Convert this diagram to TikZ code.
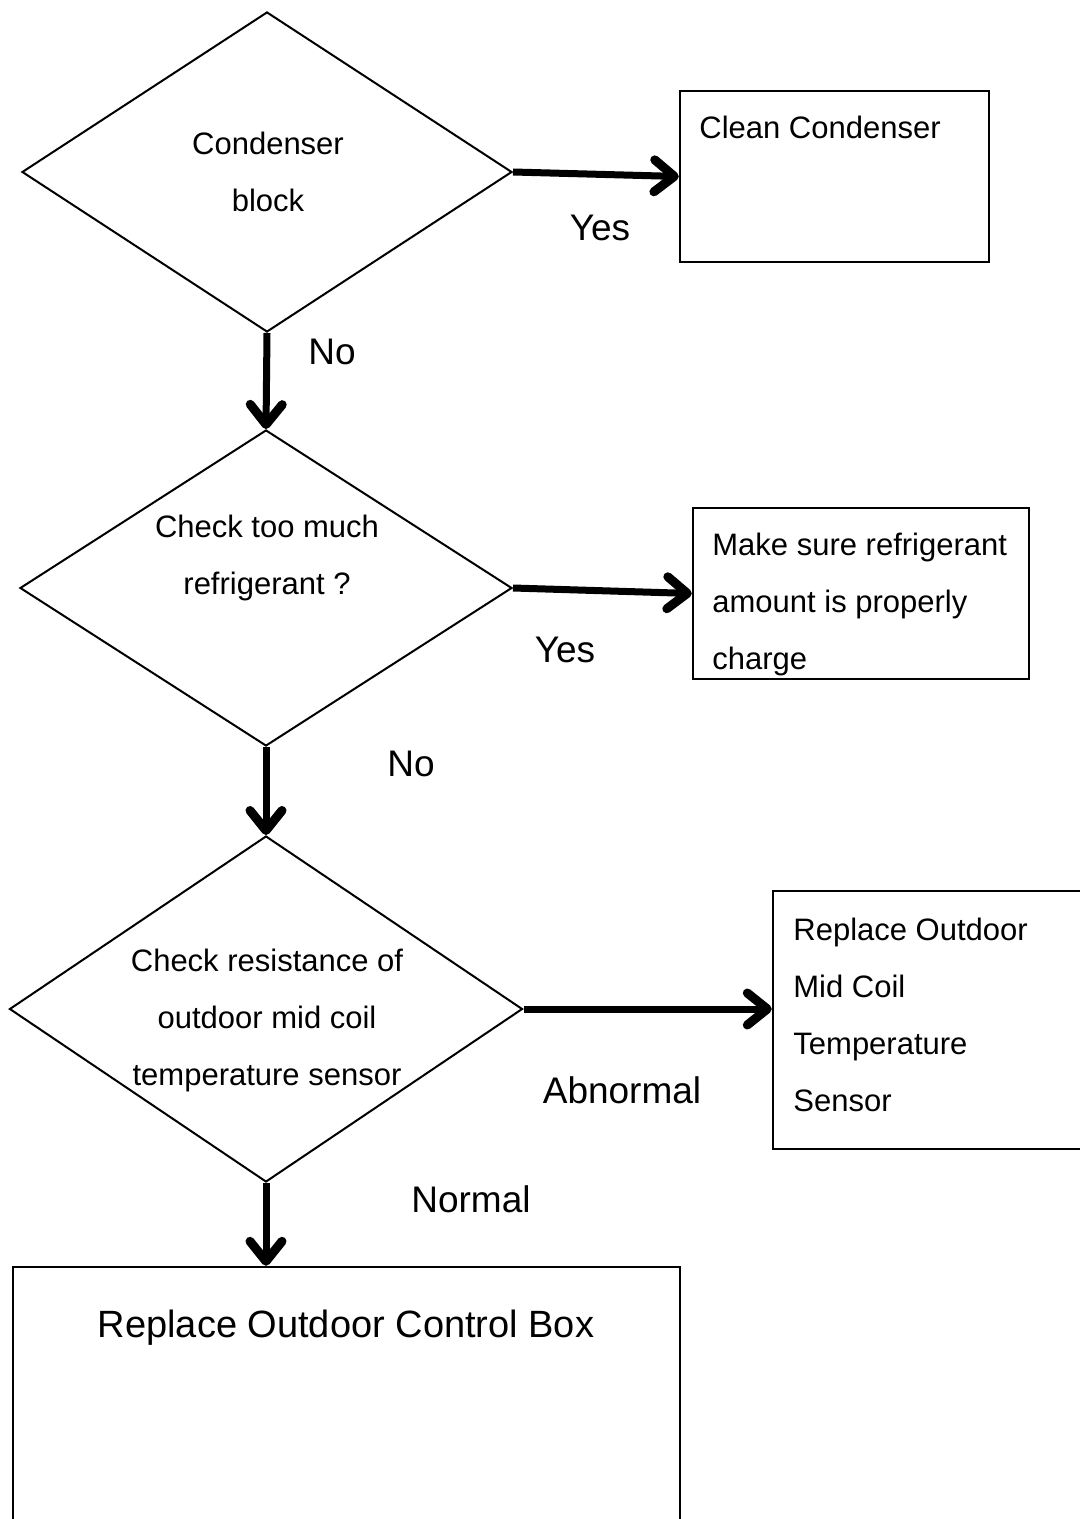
\documentclass[tikz,border=0pt]{standalone}
\usepackage{fontspec}
\setmainfont{Liberation Sans}
\usetikzlibrary{shapes.geometric,arrows.meta}
\begin{document}
\begin{tikzpicture}[x=0.5pt,y=-0.5pt,
  dec/.style={draw,diamond,line width=1pt,inner sep=0pt,minimum width=#1},
  boxn/.style={draw,rectangle,line width=1.2pt,inner sep=0pt},
  txt/.style={inner sep=0pt,font=\fontsize{15.5}{28.5}\selectfont},
  lbl/.style={inner sep=0pt,font=\fontsize{18.5}{22}\selectfont},
  flow/.style={line width=3.5pt,-{Straight Barb[length=10pt,width=16pt,round,line width=4.5pt]}}]
\useasboundingbox (0,0) rectangle (1080,1519);
% decisions
\node[dec=245pt,minimum height=160pt] (d1) at (267,172) {};
\node[dec=246pt,minimum height=158pt] (d2) at (266,588) {};
\node[dec=256.5pt,minimum height=173pt] (d3) at (266,1009) {};
\node[txt,align=center] (t1) at (268,172) {Condenser\\block};
\node[txt,align=center] (t2) at (267,558) {Check too much\\refrigerant ?};
\node[txt,align=center] (t3) at (267,1020) {Check resistance of\\outdoor mid coil\\temperature sensor};
% boxes
\node[boxn,minimum width=154.5pt,minimum height=85.5pt] (b1) at (834.5,176.5) {};
\node[boxn,minimum width=168pt,minimum height=85.5pt] (b2) at (861,593.5) {};
\node[boxn,minimum width=163.5pt,minimum height=129pt] (b3) at (936.5,1020) {};
\node[boxn,minimum width=333.5pt,minimum height=136.5pt] (b4) at (346.5,1403.5) {};
\node[txt,anchor=west] (s1) at (699,127) {Clean Condenser};
\node[txt,anchor=west,align=left] (s2) at (712,604) {Make sure refrigerant\\amount is properly\\charge};
\node[txt,anchor=west,align=left] (s3) at (793,1015) {Replace Outdoor\\Mid Coil\\Temperature\\Sensor};
\node[inner sep=0pt,font=\fontsize{19}{22}\selectfont] (s4) at (346,1328) {Replace Outdoor Control Box};
% connectors
\draw[flow] (d1.east) -- (b1.west);
\draw[flow] (d2.east) -- (b2.west);
\draw[flow] (d3.east) -- (d3.east -| b3.west);
\draw[flow] (d1.south) -- (d2.north);
\draw[flow] (d2.south) -- (d3.north);
\draw[flow] (d3.south) -- (d3.south |- b4.north);
% labels
\node[lbl] (y1) at (600,228) {Yes};
\node[lbl] (n1) at (332,352) {No};
\node[lbl] (y2) at (565,650) {Yes};
\node[lbl] (n2) at (411,764) {No};
\node[lbl] (ab) at (622,1090) {Abnormal};
\node[lbl] (no) at (471,1199) {Normal};
\end{tikzpicture}
\end{document}
